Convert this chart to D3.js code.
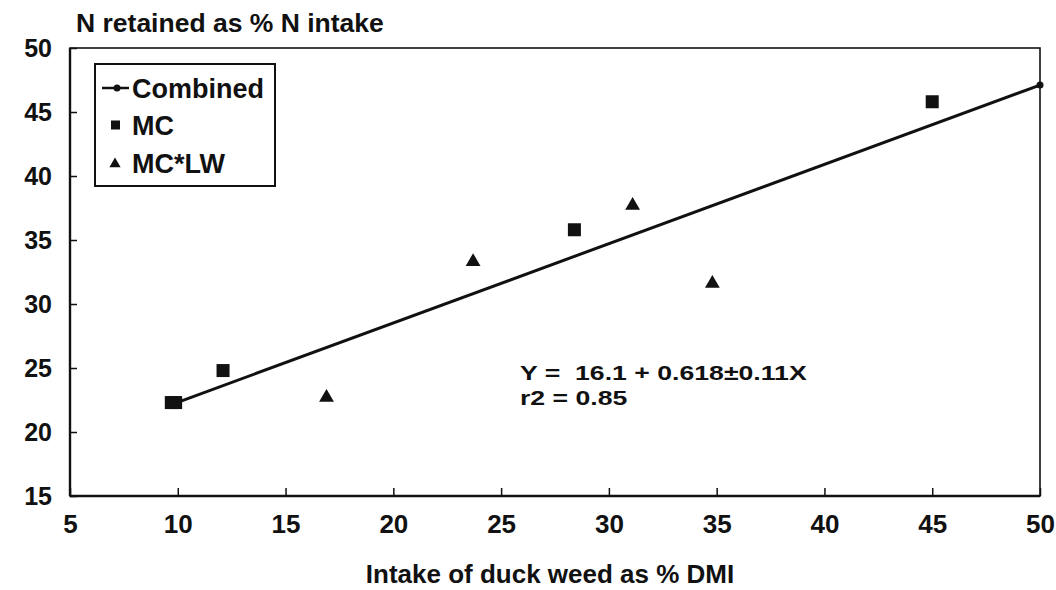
<!DOCTYPE html>
<html>
<head>
<meta charset="utf-8">
<script src="https://cdn.jsdelivr.net/npm/d3@7"></script>
<style>
  body { margin: 0; background: #fff; }
  svg { font-family: "Liberation Sans", Arial, sans-serif; }
  .axis path { display: none; }
  .axis line { stroke: #111; stroke-width: 1.5; }
</style>
</head>
<body>
<div id="chart"></div>
<script>
// x = intake of duck weed as % DMI, y = N retained as % N intake
const mcX = [9.7, 9.9, 12.1, 28.4, 45.0];
const mcY = [22.3, 22.3, 24.8, 35.8, 45.8];
const lwX = [16.9, 23.7, 31.1, 34.8];
const lwY = [22.7, 33.3, 37.7, 31.6];
const combinedX = [9.8, 50];
const combinedY = [22.2, 47.1];
const xTicks = [5, 10, 15, 20, 25, 30, 35, 40, 45, 50];
const yTicks = [15, 20, 25, 30, 35, 40, 45, 50];
const legendLabels = ["Combined", "MC", "MC*LW"];
const eqLines = ["Y =  16.1 + 0.618\u00b10.11X", "r2 = 0.85"];

const W = 1056, H = 590;
const pLeft = 70, pRight = 1040, pTop = 48, pBottom = 496;

const svg = d3.select("#chart").append("svg")
    .attr("width", W).attr("height", H);

const x = d3.scaleLinear().domain([5, 50]).range([pLeft, pRight]);
const y = d3.scaleLinear().domain([15, 50]).range([pBottom, pTop]);

// frame
svg.append("rect")
    .attr("x", pLeft).attr("y", pTop)
    .attr("width", pRight - pLeft).attr("height", pBottom - pTop)
    .attr("fill", "none").attr("stroke", "#111").attr("stroke-width", 1.6);
svg.append("line").attr("x1", pLeft).attr("x2", pLeft).attr("y1", pTop).attr("y2", pBottom)
    .attr("stroke", "#111").attr("stroke-width", 2.4);
svg.append("line").attr("x1", pLeft).attr("x2", pRight).attr("y1", pBottom).attr("y2", pBottom)
    .attr("stroke", "#111").attr("stroke-width", 2.4);

// axes (ticks pointing inward)
const xAxis = svg.append("g").attr("class", "axis")
    .attr("transform", `translate(0,${pBottom})`)
    .call(d3.axisBottom(x).tickValues(xTicks).tickSizeInner(-8).tickSizeOuter(0).tickPadding(19));
xAxis.selectAll("text").attr("font-size", 26).attr("font-weight", "bold").attr("fill", "#111");

const yAxis = svg.append("g").attr("class", "axis")
    .attr("transform", `translate(${pLeft},0)`)
    .call(d3.axisLeft(y).tickValues(yTicks).tickSizeInner(-7).tickSizeOuter(0).tickPadding(18));
yAxis.selectAll("text").attr("font-size", 25).attr("font-weight", "bold").attr("fill", "#111");

// titles
svg.append("text").attr("x", 76).attr("y", 32)
    .attr("font-size", 26.5).attr("font-weight", "bold").attr("fill", "#111")
    .text("N retained as % N intake");
svg.append("text").attr("x", 550).attr("y", 583)
    .attr("text-anchor", "middle").attr("font-size", 26).attr("font-weight", "bold").attr("fill", "#111")
    .text("Intake of duck weed as % DMI");

// regression line (Combined)
const combined = combinedX.map((d, i) => [d, combinedY[i]]);
svg.append("path")
    .datum(combined)
    .attr("d", d3.line().x(d => x(d[0])).y(d => y(d[1])))
    .attr("fill", "none").attr("stroke", "#111").attr("stroke-width", 3);
svg.selectAll("circle.comb")
    .data(combined)
    .enter().append("circle")
    .attr("class", "comb")
    .attr("cx", d => x(d[0])).attr("cy", d => y(d[1]))
    .attr("r", 3.5).attr("fill", "#111");

// MC squares
const sq = 13;
svg.selectAll("rect.mc")
    .data(mcX.map((d, i) => [d, mcY[i]]))
    .enter().append("rect")
    .attr("class", "mc")
    .attr("x", d => x(d[0]) - sq / 2).attr("y", d => y(d[1]) - sq / 2)
    .attr("width", sq).attr("height", sq)
    .attr("fill", "#111");

// MC*LW triangles
const tri = d3.symbol().type(d3.symbolTriangle).size(95);
svg.selectAll("path.lw")
    .data(lwX.map((d, i) => [d, lwY[i]]))
    .enter().append("path")
    .attr("class", "lw")
    .attr("transform", d => `translate(${x(d[0])},${y(d[1])})`)
    .attr("d", tri)
    .attr("fill", "#111");

// legend
const lg = svg.append("g").attr("transform", "translate(95,64)");
lg.append("rect").attr("width", 180).attr("height", 122)
    .attr("fill", "#fff").attr("stroke", "#111").attr("stroke-width", 2);
const rowY = [24, 61, 99];
lg.selectAll("text.lab")
    .data(legendLabels)
    .enter().append("text")
    .attr("class", "lab")
    .attr("x", 37).attr("y", (d, i) => rowY[i] + 10)
    .attr("font-size", 27).attr("font-weight", "bold").attr("fill", "#111")
    .text(d => d);
lg.append("line").attr("x1", 7).attr("x2", 34).attr("y1", rowY[0]).attr("y2", rowY[0])
    .attr("stroke", "#111").attr("stroke-width", 2.5);
lg.append("circle").attr("cx", 22).attr("cy", rowY[0]).attr("r", 3.5).attr("fill", "#111");
lg.append("rect").attr("x", 16).attr("y", rowY[1] - 4.5).attr("width", 9).attr("height", 9).attr("fill", "#111");
lg.append("path").attr("transform", `translate(20,${rowY[2] + 1})`)
    .attr("d", d3.symbol().type(d3.symbolTriangle).size(55)).attr("fill", "#111");

// equation (stretched wide, as in the source)
const eq = svg.append("g").attr("transform", "translate(520,0) scale(1.3,1)");
eq.selectAll("text.eq")
    .data(eqLines)
    .enter().append("text")
    .attr("class", "eq")
    .attr("x", 0).attr("y", (d, i) => 380 + i * 25)
    .attr("font-size", 20.5).attr("font-weight", "bold").attr("fill", "#111")
    .style("white-space", "pre")
    .text(d => d);
</script>
</body>
</html>
